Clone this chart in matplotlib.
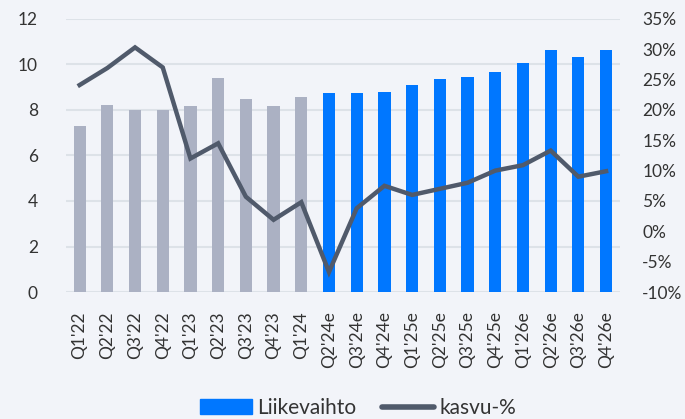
import matplotlib.pyplot as plt
import numpy as np
from matplotlib.patches import Patch
from matplotlib.lines import Line2D

quarters = ["Q1'22", "Q2'22", "Q3'22", "Q4'22", "Q1'23", "Q2'23", "Q3'23", "Q4'23",
            "Q1'24", "Q2'24e", "Q3'24e", "Q4'24e", "Q1'25e", "Q2'25e", "Q3'25e",
            "Q4'25e", "Q1'26e", "Q2'26e", "Q3'26e", "Q4'26e"]
revenue = [7.3, 8.22, 8.0, 8.0, 8.18, 9.41, 8.48, 8.18, 8.57, 8.75, 8.76, 8.78,
           9.08, 9.36, 9.46, 9.65, 10.08, 10.62, 10.31, 10.62]
growth = [24.1, 26.9, 30.3, 27.0, 12.0, 14.5, 5.7, 1.9, 4.8, -6.7, 3.8, 7.5,
          6.0, 7.0, 8.0, 10.0, 10.9, 13.3, 9.0, 9.9]
n_actual = 9  # first estimate quarter is Q2'24e

bg = "#f2f4f9"
plt.rcParams["font.family"] = ["Lato", "DejaVu Sans"]

fig = plt.figure(figsize=(6.85, 4.19), dpi=100, facecolor=bg)
ax = fig.add_axes([0.096, 0.303, 0.809, 0.652])
ax.set_facecolor(bg)

x = np.arange(len(quarters))
colors = ["#abb1c3"] * n_actual + ["#0077ff"] * (len(quarters) - n_actual)
ax.bar(x, revenue, width=0.44, color=colors, zorder=2)

ax.set_ylim(0, 12)
ax.set_yticks(range(0, 13, 2))
ax.set_xlim(-0.5, len(quarters) - 0.5)
ax.set_xticks(x)
ax.set_xticklabels(quarters, rotation=90)
ax.grid(axis="y", color="#dde2e8", linewidth=1.5, zorder=0)
for s in ax.spines.values():
    s.set_visible(False)
ax.tick_params(axis="both", length=0, labelsize=12.5, colors="#333333")
ax.tick_params(axis="y", pad=20)
ax.tick_params(axis="x", pad=14)

ax2 = ax.twinx()
ax2.plot(x, growth, color="#505a6b", linewidth=3.2, solid_joinstyle="miter", zorder=3)
ax2.set_ylim(-10, 35)
ax2.set_yticks(range(-10, 36, 5))
ax2.set_yticklabels([f"{v}%" for v in range(-10, 36, 5)])
for s in ax2.spines.values():
    s.set_visible(False)
ax2.tick_params(axis="y", length=0, labelsize=12.5, colors="#333333", pad=16)

handles = [Patch(color="#0077ff"),
           Line2D([], [], color="#505a6b", linewidth=4, solid_capstyle="round")]
fig.legend(handles, ["Liikevaihto", "kasvu-%"], loc="center left",
           bbox_to_anchor=(200 / 685, 1 - 408 / 419), ncol=2, frameon=False,
           fontsize=15, handlelength=2.5, handletextpad=0.24, columnspacing=1.25,
           borderpad=0, borderaxespad=0, labelcolor="#333333")

fig.savefig("out.png", dpi=100, facecolor=bg)
